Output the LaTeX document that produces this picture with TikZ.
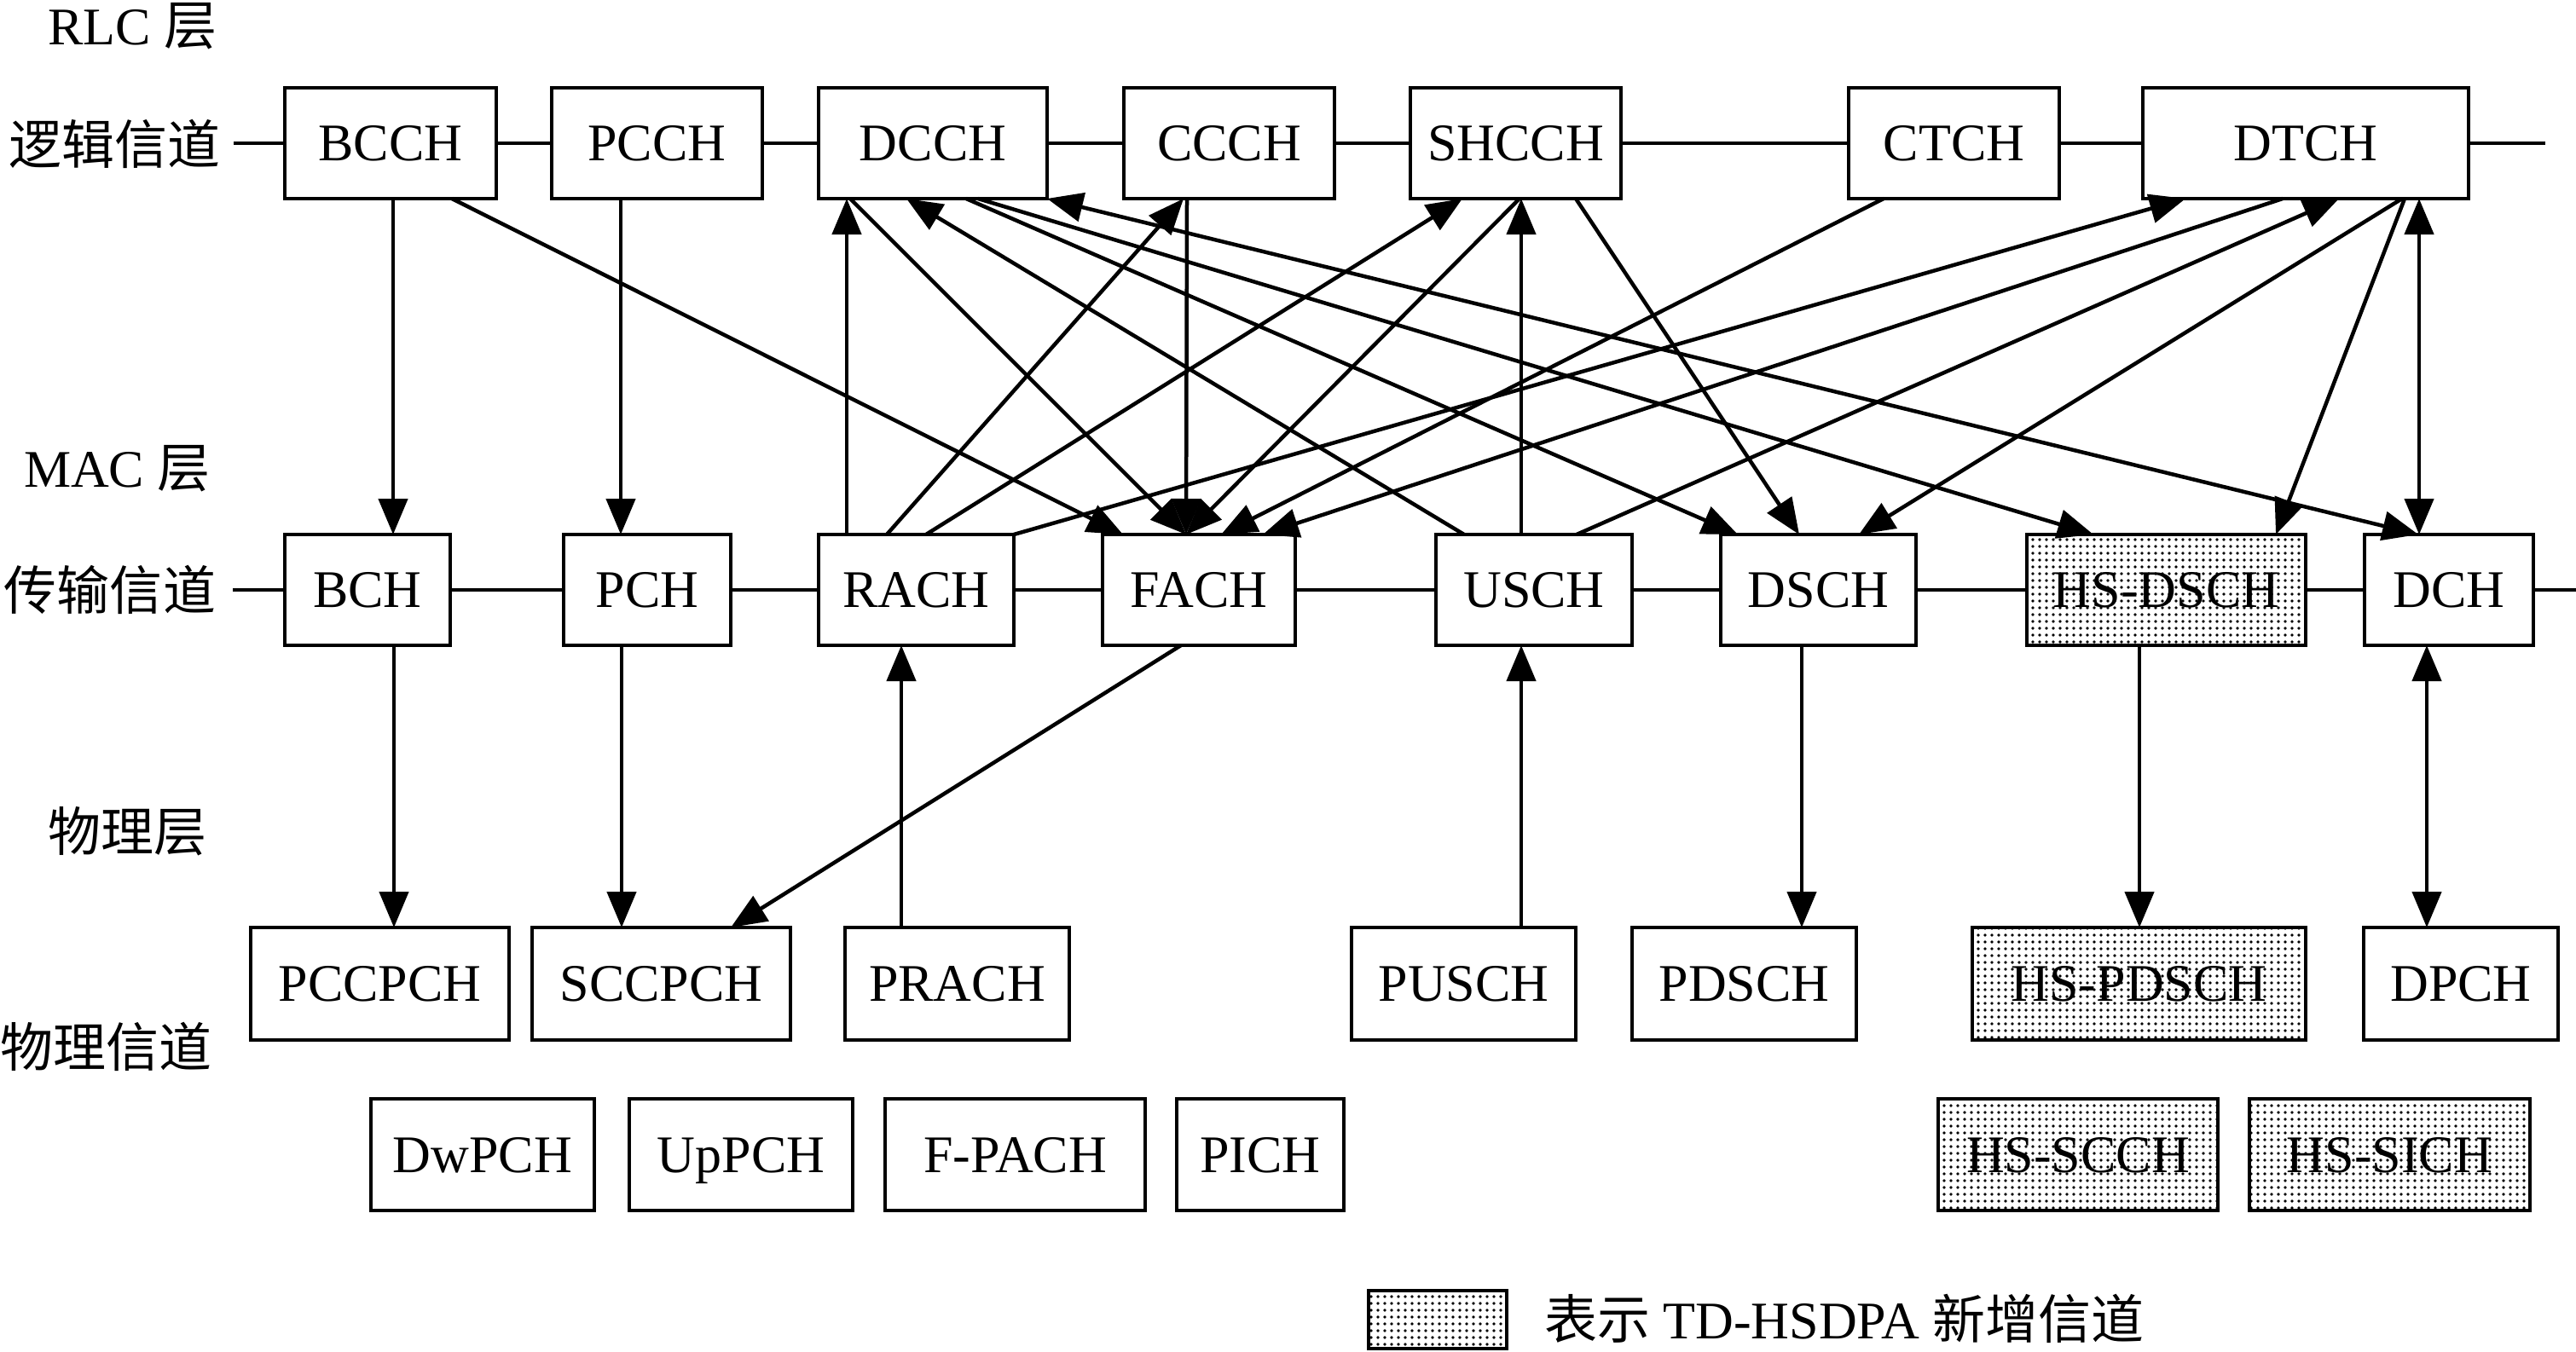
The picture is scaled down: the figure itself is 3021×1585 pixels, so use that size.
\documentclass[tikz,border=0pt]{standalone}
\usepackage{fontspec}
\setmainfont{Liberation Serif}
\newfontfamily\cjk{Noto Sans CJK SC}
\usetikzlibrary{arrows.meta,patterns.meta}
\begin{document}
\begin{tikzpicture}[x=1pt,y=-1pt,
  box/.style={draw, line width=4.5pt, fill=white, inner sep=0pt, outer sep=0pt,
    text height=41pt, text depth=0pt, font=\fontsize{62}{70}\selectfont},
  hs/.style={box, preaction={fill=white}, pattern={Dots[distance=8pt,radius=1.9pt]}},
  sz/.style 2 args={minimum width=#1pt, minimum height=#2pt},
  lbl/.style={font=\fontsize{62}{70}\selectfont, inner sep=0pt, outer sep=0pt},
  chan/.style={line width=4.5pt},
  arr/.style={line width=4.5pt, -{Triangle[length=42pt,width=34pt]}},
  darr/.style={line width=4.5pt, {Triangle[length=42pt,width=34pt]}-{Triangle[length=42pt,width=34pt]}}
]
\useasboundingbox (0,0) rectangle (3021,1585);

% layer labels
\node[lbl, anchor=base west] (rlc) at (56,52) {RLC {\cjk 层}};
\node[lbl, anchor=base west] (ljxd) at (10,192) {\cjk 逻辑信道};
\node[lbl, anchor=base west] (mac) at (28,571) {MAC {\cjk 层}};
\node[lbl, anchor=base west] (csxd) at (5,715) {\cjk 传输信道};
\node[lbl, anchor=base west] (wlc) at (56,998) {\cjk 物理层};
\node[lbl, anchor=base west] (wlxd) at (0,1251) {\cjk 物理信道};

% end points of channel lines
\coordinate (lcL) at (274,168);
\coordinate (lcR) at (2985,168);
\coordinate (tcL) at (273,692);
\coordinate (tcR) at (3021,692);

% logical channels
\node[box, sz={248}{130}] (BCCH) at (458,168) {BCCH};
\node[box, sz={247}{130}] (PCCH) at (770.5,168) {PCCH};
\node[box, sz={268}{130}] (DCCH) at (1094,168) {DCCH};
\node[box, sz={247}{130}] (CCCH) at (1441.5,168) {CCCH};
\node[box, sz={247}{130}] (SHCCH) at (1777.5,168) {SHCCH};
\node[box, sz={247}{130}] (CTCH) at (2291.5,168) {CTCH};
\node[box, sz={382}{130}] (DTCH) at (2704,168) {DTCH};

% transport channels
\node[box, sz={194}{130}] (BCH) at (431,692) {BCH};
\node[box, sz={196}{130}] (PCH) at (759,692) {PCH};
\node[box, sz={229}{130}] (RACH) at (1074.5,692) {RACH};
\node[box, sz={226}{130}] (FACH) at (1406,692) {FACH};
\node[box, sz={230}{130}] (USCH) at (1799,692) {USCH};
\node[box, sz={229}{130}] (DSCH) at (2132.5,692) {DSCH};
\node[hs, sz={327}{130}] (HSDSCH) at (2540.5,692) {HS-DSCH};
\node[box, sz={198}{130}] (DCH) at (2872,692) {DCH};

% physical channels
\node[box, sz={303}{132}] (PCCPCH) at (445.5,1154) {PCCPCH};
\node[box, sz={303}{132}] (SCCPCH) at (775.5,1154) {SCCPCH};
\node[box, sz={263}{132}] (PRACH) at (1122.5,1154) {PRACH};
\node[box, sz={263}{132}] (PUSCH) at (1716.5,1154) {PUSCH};
\node[box, sz={263}{132}] (PDSCH) at (2045.5,1154) {PDSCH};
\node[hs, sz={391}{132}] (HSPDSCH) at (2508.5,1154) {HS-PDSCH};
\node[box, sz={228}{132}] (DPCH) at (2886,1154) {DPCH};

\node[box, sz={262}{131}] (DwPCH) at (566,1354.5) {DwPCH};
\node[box, sz={262}{131}] (UpPCH) at (869,1354.5) {UpPCH};
\node[box, sz={305}{131}] (FPACH) at (1190.5,1354.5) {F-PACH};
\node[box, sz={196}{131}] (PICH) at (1478,1354.5) {PICH};
\node[hs, sz={328}{131}] (HSSCCH) at (2437,1354.5) {HS-SCCH};
\node[hs, sz={329}{131}] (HSSICH) at (2802.5,1354.5) {HS-SICH};

% legend
\node[hs, sz={162}{68}] (leg) at (1686,1548) {};
\node[lbl, anchor=base west] (legt) at (1811,1570) {{\cjk 表示} TD-HSDPA {\cjk 新增信道}};

% channel lines
\draw[chan] (lcL) -- (BCCH) (BCCH) -- (PCCH) (PCCH) -- (DCCH) (DCCH) -- (CCCH)
  (CCCH) -- (SHCCH) (SHCCH) -- (CTCH) (CTCH) -- (DTCH) (DTCH) -- (lcR);
\draw[chan] (tcL) -- (BCH) (BCH) -- (PCH) (PCH) -- (RACH) (RACH) -- (FACH)
  (FACH) -- (USCH) (USCH) -- (DSCH) (DSCH) -- (HSDSCH) (HSDSCH) -- (DCH) (DCH) -- (tcR);

% logical <-> transport
\draw[arr] ([xshift=127pt]BCCH.south west) -- ([xshift=127pt]BCH.north west);
\draw[arr] ([xshift=196pt]BCCH.south west) -- ([xshift=24pt]FACH.north west);
\draw[arr] ([xshift=81pt]PCCH.south west) -- ([xshift=67pt]PCH.north west);
\draw[arr] ([xshift=33pt]RACH.north west) -- ([xshift=33pt]DCCH.south west);
\draw[arr] ([xshift=37pt]DCCH.south west) -- ([xshift=98pt]FACH.north west);
\draw[arr] ([xshift=33pt]USCH.north west) -- ([xshift=103pt]DCCH.south west);
\draw[arr] ([xshift=173pt]DCCH.south west) -- ([xshift=20pt]DSCH.north west);
\draw[arr] ([xshift=187pt]DCCH.south west) -- ([xshift=78pt]HSDSCH.north west);
\draw[darr] (DCCH.south east) -- ([xshift=63pt]DCH.north west);
\draw[arr] ([xshift=80pt]RACH.north west) -- ([xshift=70pt]CCCH.south west);
\draw[arr] ([xshift=74pt]CCCH.south west) -- ([xshift=98pt]FACH.north west);
\draw[arr] ([xshift=126pt]RACH.north west) -- ([xshift=61pt]SHCCH.south west);
\draw[arr] ([xshift=128pt]SHCCH.south west) -- ([xshift=98pt]FACH.north west);
\draw[arr] ([xshift=100pt]USCH.north west) -- ([xshift=130pt]SHCCH.south west);
\draw[arr] ([xshift=194pt]SHCCH.south west) -- ([xshift=92pt]DSCH.north west);
\draw[arr] ([xshift=41pt]CTCH.south west) -- ([xshift=139pt]FACH.north west);
\draw[arr] (RACH.north east) -- ([xshift=50pt]DTCH.south west);
\draw[arr] ([xshift=164pt]DTCH.south west) -- ([xshift=188pt]FACH.north west);
\draw[arr] ([xshift=165pt]USCH.north west) -- ([xshift=230pt]DTCH.south west);
\draw[arr] ([xshift=304pt]DTCH.south west) -- ([xshift=162pt]DSCH.north west);
\draw[arr] ([xshift=307pt]DTCH.south west) -- ([xshift=292pt]HSDSCH.north west);
\draw[darr] ([xshift=324pt]DTCH.south west) -- ([xshift=64pt]DCH.north west);

% transport <-> physical
\draw[arr] ([xshift=128pt]BCH.south west) -- ([xshift=168pt]PCCPCH.north west);
\draw[arr] ([xshift=68pt]PCH.south west) -- ([xshift=105pt]SCCPCH.north west);
\draw[arr] ([xshift=92pt]FACH.south west) -- ([xshift=233pt]SCCPCH.north west);
\draw[arr] ([xshift=66pt]PRACH.north west) -- ([xshift=97pt]RACH.south west);
\draw[arr] ([xshift=199pt]PUSCH.north west) -- ([xshift=100pt]USCH.south west);
\draw[arr] ([xshift=95pt]DSCH.south west) -- ([xshift=199pt]PDSCH.north west);
\draw[arr] ([xshift=132pt]HSDSCH.south west) -- ([xshift=196pt]HSPDSCH.north west);
\draw[darr] ([xshift=73pt]DCH.south west) -- ([xshift=74pt]DPCH.north west);
\end{tikzpicture}
\end{document}
